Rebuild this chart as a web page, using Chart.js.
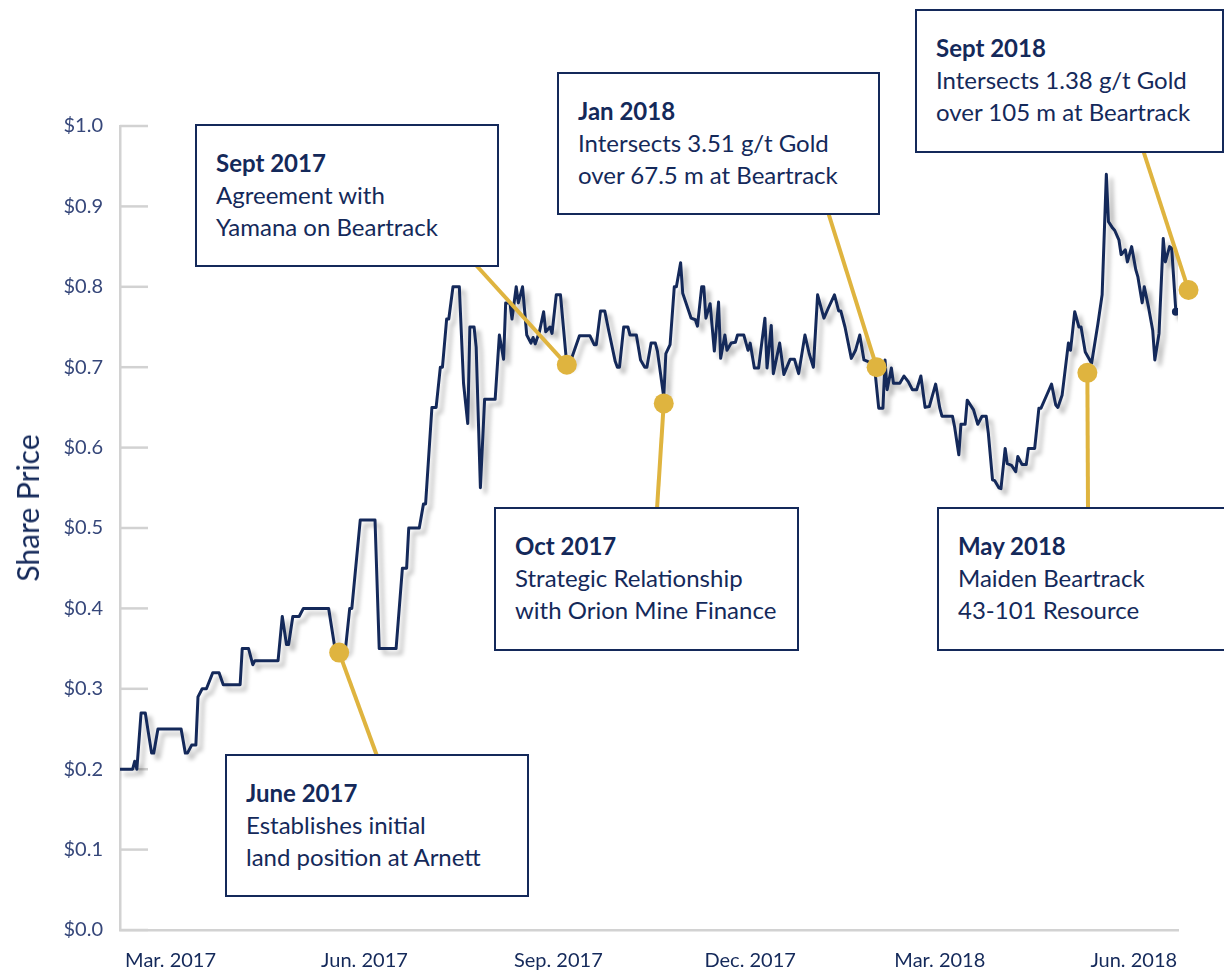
<!DOCTYPE html>
<html>
<head>
<meta charset="utf-8">
<script src="https://cdn.jsdelivr.net/npm/chart.js@4.4.1/dist/chart.umd.min.js"></script>
<style>
  html, body { margin: 0; padding: 0; background: #fff; }
  #wrap { position: relative; width: 1224px; height: 970px; overflow: hidden; font-family: Lato, sans-serif; }
  #chart { position: absolute; left: 0; top: 0; }
  .note { position: absolute; box-sizing: border-box; background: #fff; border: 2px solid #14295a;
          color: #14295a; padding: 21px 0 0 19px; font-size: 24px; line-height: 32px; white-space: nowrap; }
  .note b { font-weight: 700; }
  #ytitle { position: absolute; left: 27px; top: 508px; transform: translate(-50%, -50%) rotate(-90deg);
            font-size: 30px; color: #14295a; white-space: nowrap; }
</style>
</head>
<body>
<div id="wrap">
  <canvas id="chart" width="1224" height="970"></canvas>
  <div id="ytitle">Share Price</div>
</div>
<script>
// days counted from 1 Mar 2017
const dayOffsets = [
  -24, -18, -17, -16, -14, -12, -9, -8, -6, 5, 7, 8, 10, 12, 13, 15, 17, 20, 23, 25,
  33, 34, 37, 39, 40, 51, 53, 55, 56, 58, 61, 63, 75, 78, 80, 83, 85, 86, 90, 97,
  99, 107, 110, 112, 113, 118, 120, 121, 124, 126, 128, 129, 131, 132, 134, 137, 139, 141, 142, 144,
  145, 147, 149, 154, 156, 158, 159, 161, 162, 164, 165, 167, 169, 171, 172, 173, 175, 177, 178, 180,
  181, 183, 185, 188, 190, 194, 199, 201, 202, 204, 206, 208, 211, 212, 213, 215, 217, 218, 221, 223,
  225, 226, 228, 230, 231, 234, 235, 237, 239, 240, 242, 243, 247, 249, 250, 252, 253, 254, 256, 258,
  260, 261, 263, 264, 266, 268, 269, 272, 274, 275, 277, 279, 282, 283, 285, 286, 289, 291, 294, 296,
  298, 301, 303, 305, 307, 310, 312, 315, 317, 318, 320, 323, 325, 327, 329, 331, 334, 336, 338, 339,
  340, 342, 343, 346, 348, 350, 352, 354, 356, 358, 360, 363, 365, 366, 371, 372, 374, 375, 377, 378,
  381, 383, 385, 387, 388, 390, 391, 393, 394, 396, 397, 399, 401, 402, 404, 406, 407, 410, 412, 413,
  416, 418, 420, 421, 423, 426, 427, 429, 431, 432, 434, 437, 440, 442, 444, 445, 447, 448, 450, 451,
  453, 454, 456, 458, 459, 461, 462, 464, 466, 467, 469, 471, 472, 474, 475, 477
];
const prices = [
  0.20, 0.20, 0.21, 0.20, 0.27, 0.27, 0.22, 0.22, 0.25, 0.25, 0.22, 0.22, 0.23, 0.23, 0.29, 0.30, 0.30, 0.32, 0.32, 0.305,
  0.305, 0.35, 0.35, 0.33, 0.335, 0.335, 0.39, 0.355, 0.355, 0.39, 0.39, 0.40, 0.40, 0.35, 0.345, 0.35, 0.40, 0.40, 0.51, 0.51,
  0.35, 0.35, 0.45, 0.45, 0.50, 0.50, 0.53, 0.53, 0.65, 0.65, 0.70, 0.70, 0.76, 0.76, 0.80, 0.80, 0.68, 0.63, 0.75, 0.75,
  0.725, 0.55, 0.66, 0.66, 0.74, 0.71, 0.78, 0.78, 0.76, 0.80, 0.78, 0.80, 0.74, 0.73, 0.737, 0.729, 0.744, 0.769, 0.744, 0.75,
  0.742, 0.79, 0.79, 0.703, 0.709, 0.739, 0.739, 0.728, 0.728, 0.77, 0.77, 0.744, 0.707, 0.70, 0.70, 0.75, 0.75, 0.74, 0.74, 0.709,
  0.70, 0.70, 0.73, 0.73, 0.72, 0.663, 0.717, 0.728, 0.80, 0.80, 0.83, 0.792, 0.761, 0.759, 0.751, 0.80, 0.80, 0.761, 0.779, 0.72,
  0.781, 0.711, 0.74, 0.721, 0.73, 0.731, 0.74, 0.74, 0.721, 0.73, 0.699, 0.699, 0.761, 0.699, 0.752, 0.692, 0.73, 0.691, 0.71, 0.71,
  0.692, 0.74, 0.717, 0.70, 0.79, 0.761, 0.773, 0.79, 0.77, 0.77, 0.75, 0.711, 0.721, 0.74, 0.709, 0.707, 0.701, 0.649, 0.649, 0.709,
  0.672, 0.699, 0.68, 0.68, 0.689, 0.682, 0.672, 0.672, 0.689, 0.65, 0.651, 0.679, 0.649, 0.639, 0.639, 0.626, 0.591, 0.629, 0.629, 0.659,
  0.647, 0.629, 0.639, 0.639, 0.618, 0.56, 0.559, 0.55, 0.549, 0.599, 0.58, 0.578, 0.57, 0.589, 0.579, 0.579, 0.599, 0.599, 0.649, 0.649,
  0.667, 0.679, 0.653, 0.65, 0.665, 0.73, 0.721, 0.769, 0.75, 0.75, 0.719, 0.705, 0.754, 0.79, 0.94, 0.881, 0.873, 0.87, 0.858, 0.84,
  0.846, 0.831, 0.85, 0.821, 0.812, 0.78, 0.80, 0.775, 0.746, 0.709, 0.742, 0.86, 0.831, 0.85, 0.848, 0.769
];
const tickDays = [0, 92, 184, 275, 365, 457];
const tickLabels = ['Mar. 2017', 'Jun. 2017', 'Sep. 2017', 'Dec. 2017', 'Mar. 2018', 'Jun. 2018'];

const eventDays = [80, 188, 234, 335, 435, 483];
const eventPrices = [0.345, 0.703, 0.655, 0.70, 0.693, 0.796];
const eventTitles = ['June 2017', 'Sept 2017', 'Oct 2017', 'Jan 2018', 'May 2018', 'Sept 2018'];
const eventLines = [
  ['Establishes initial', 'land position at Arnett'],
  ['Agreement with', 'Yamana on Beartrack'],
  ['Strategic Relationship', 'with Orion Mine Finance'],
  ['Intersects 3.51 g/t Gold', 'over 67.5 m at Beartrack'],
  ['Maiden Beartrack', '43-101 Resource'],
  ['Intersects 1.38 g/t Gold', 'over 105 m at Beartrack']
];

// box placement in page pixels: left, top, width, height, and where the connector meets the box
const noteBoxes = [
  { box: [225, 754, 304, 143], anchor: [377, 756] },
  { box: [195, 124, 304, 143], anchor: [475, 264] },
  { box: [494, 507, 305, 144], anchor: [657, 509] },
  { box: [557, 72, 323, 143], anchor: [828, 212] },
  { box: [937, 507, 300, 144], anchor: [1088, 509] },
  { box: [915, 9, 309, 144], anchor: [1143, 150] }
];

const navy = '#14295a';
const gold = '#dfb43f';
const axisGrey = '#d2d2d2';

Chart.defaults.font.family = 'Lato, sans-serif';

// y tick marks, shadow under the price line, event connectors and dots
const decorations = {
  id: 'decorations',
  beforeDatasetsDraw(chart) {
    const { ctx, scales: { y }, chartArea } = chart;
    ctx.save();
    ctx.strokeStyle = axisGrey;
    ctx.lineWidth = 2.5;
    y.ticks.forEach(t => {
      const py = y.getPixelForValue(t.value);
      ctx.beginPath();
      ctx.moveTo(chartArea.left, py);
      ctx.lineTo(chartArea.left + 28, py);
      ctx.stroke();
    });
    ctx.restore();
  },
  beforeDatasetDraw(chart, args) {
    if (args.index !== 0) return;
    const ctx = chart.ctx;
    ctx.save();
    ctx.shadowColor = 'rgba(0,0,0,0.26)';
    ctx.shadowOffsetX = 5;
    ctx.shadowOffsetY = 5;
    ctx.shadowBlur = 4;
  },
  afterDatasetDraw(chart, args) {
    if (args.index === 0) chart.ctx.restore();
  },
  afterDatasetsDraw(chart) {
    const { ctx, scales: { x, y } } = chart;
    ctx.save();
    ctx.strokeStyle = gold;
    ctx.fillStyle = gold;
    ctx.lineWidth = 4;
    eventDays.forEach((d, i) => {
      const px = x.getPixelForValue(d);
      const py = y.getPixelForValue(eventPrices[i]);
      ctx.beginPath();
      ctx.moveTo(px, py);
      ctx.lineTo(noteBoxes[i].anchor[0], noteBoxes[i].anchor[1]);
      ctx.stroke();
      ctx.beginPath();
      ctx.arc(px, py, 10, 0, Math.PI * 2);
      ctx.fill();
    });
    ctx.restore();
  }
};

new Chart(document.getElementById('chart'), {
  type: 'line',
  data: {
    datasets: [{
      data: dayOffsets.map((d, i) => ({ x: d, y: prices[i] })),
      borderColor: navy,
      backgroundColor: navy,
      borderWidth: 3,
      borderJoinStyle: 'round',
      borderCapStyle: 'round',
      tension: 0,
      pointRadius: c => c.dataIndex === prices.length - 1 ? 2.5 : 0,
      fill: false
    }]
  },
  options: {
    responsive: false,
    animation: false,
    events: [],
    layout: { padding: { top: 126, right: 46, left: 0, bottom: 0 } },
    scales: {
      x: {
        type: 'linear',
        min: -24,
        max: 478,
        afterBuildTicks: s => { s.ticks = tickDays.map(v => ({ value: v })); },
        afterFit: s => { s.height = 40; },
        grid: { display: false },
        border: { color: axisGrey, width: 2.5 },
        ticks: {
          autoSkip: false,
          maxRotation: 0,
          padding: 11,
          color: navy,
          font: { size: 20 },
          callback: (v) => tickLabels[tickDays.indexOf(v)]
        }
      },
      y: {
        min: 0,
        max: 1,
        afterFit: s => { s.width = 120; },
        grid: { display: false },
        border: { color: axisGrey, width: 2.5 },
        ticks: {
          stepSize: 0.1,
          padding: 9,
          color: '#36477a',
          font: { size: 20 },
          callback: v => '$' + v.toFixed(1)
        }
      }
    },
    plugins: {
      legend: { display: false },
      tooltip: { enabled: false }
    }
  },
  plugins: [decorations]
});

// annotation boxes as real text on top of the canvas
const wrap = document.getElementById('wrap');
noteBoxes.forEach((n, i) => {
  const el = document.createElement('div');
  el.className = 'note';
  el.style.left = n.box[0] + 'px';
  el.style.top = n.box[1] + 'px';
  el.style.width = n.box[2] + 'px';
  el.style.height = n.box[3] + 'px';
  el.innerHTML = '<b>' + eventTitles[i] + '</b><br>' + eventLines[i].join('<br>');
  wrap.appendChild(el);
});
</script>
</body>
</html>
